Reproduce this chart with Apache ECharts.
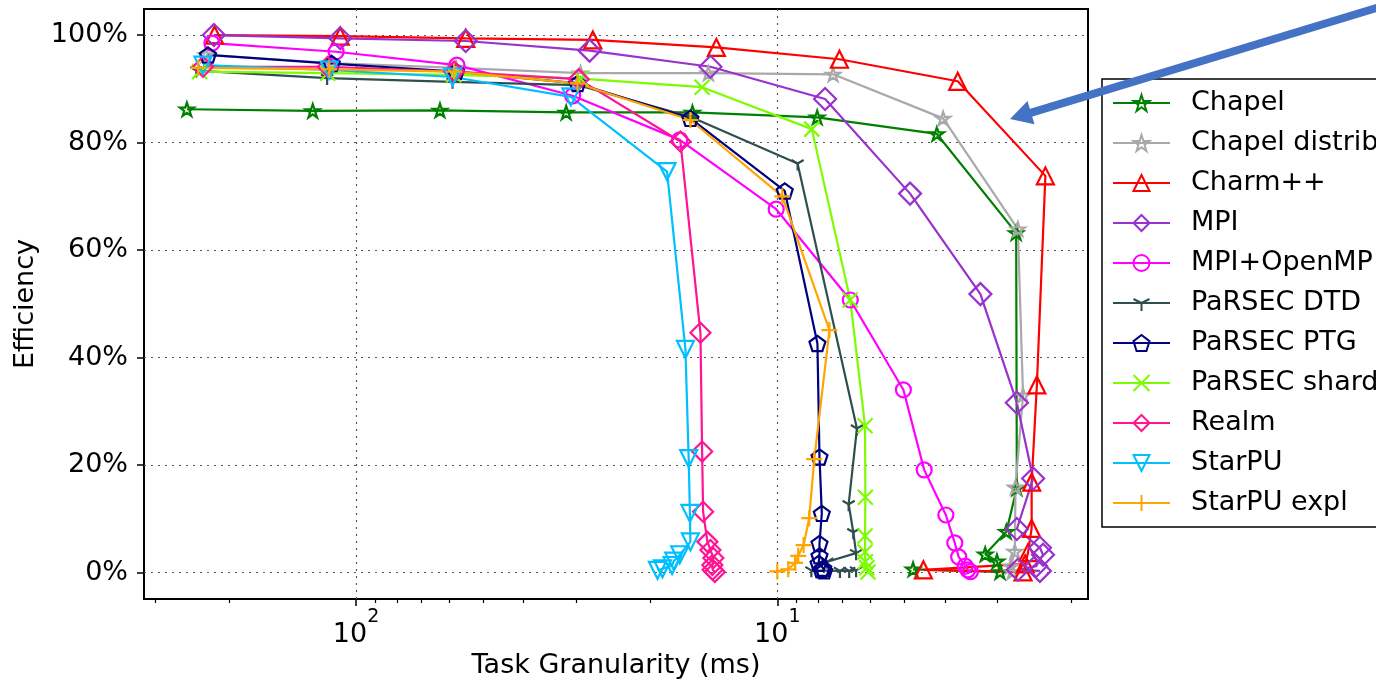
<!DOCTYPE html>
<html>
<head>
<meta charset="utf-8">
<script src="https://cdn.jsdelivr.net/npm/echarts@6/dist/echarts.min.js"></script>
<style>
  html, body { margin: 0; padding: 0; background: #fff; }
  #chart { width: 1376px; height: 679px; }
</style>
</head>
<body>
<div id="chart"></div>
<script>
// 系列名称
const names = ['Chapel', 'Chapel distrib', 'Charm++', 'MPI', 'MPI+OpenMP', 'PaRSEC DTD',
  'PaRSEC PTG', 'PaRSEC shard', 'Realm', 'StarPU', 'StarPU expl']

// 任务粒度 (ms) 与效率 (%)
const chapelX = [252, 126.7, 63.2, 31.7, 15.9, 8.04, 4.18, 2.71, 2.70, 2.86, 3.21, 3.01, 2.96, 4.76]
const chapelY = [86.2, 85.9, 86.0, 85.6, 85.6, 84.7, 81.6, 63.2, 15.7, 7.6, 3.4, 2.1, 0.1, 0.6]
const chapelDistX = [227, 114.6, 57.9, 29.3, 14.57, 7.37, 4.04, 2.685, 2.61, 2.72, 2.73, 2.79, 2.77]
const chapelDistY = [96.3, 94.8, 93.9, 92.9, 92.9, 92.7, 84.5, 63.9, 33.0, 15.9, 3.9, 1.2, 0.1]
const charmX = [216.7, 109, 54.9, 27.4, 13.95, 7.12, 3.73, 2.31, 2.42, 2.49, 2.49, 2.54, 2.58, 4.50, 2.61]
const charmY = [100.0, 99.8, 99.4, 99.1, 97.7, 95.5, 91.4, 73.8, 34.9, 16.8, 8.2, 3.7, 1.6, 0.5, 0.1]
const mpiX = [217.4, 109, 54.9, 27.9, 14.41, 7.70, 4.84, 3.295, 2.70, 2.47, 2.70, 2.38, 2.34, 2.43, 2.685, 2.38]
const mpiY = [100.0, 99.4, 98.9, 97.1, 94.1, 88.1, 70.5, 51.8, 31.6, 17.5, 8.1, 4.6, 3.3, 1.2, 0.5, 0.3]
const mpiOmpX = [219.8, 111.5, 57.6, 30.6, 17.04, 10.06, 6.71, 5.02, 4.48, 3.98, 3.79, 3.71, 3.58, 3.53, 3.48]
const mpiOmpY = [98.5, 96.9, 94.4, 88.7, 80.5, 67.6, 50.7, 34.0, 19.1, 10.7, 5.5, 2.9, 1.2, 0.5, 0.15]
const dtdX = [239.4, 117.1, 59.0, 29.8, 16.08, 8.95, 6.47, 6.77, 6.60, 6.50, 7.61, 8.30, 7.10, 6.75, 6.50]
const dtdY = [93.4, 92.0, 91.3, 90.7, 84.8, 76.1, 26.8, 12.7, 7.5, 3.6, 2.0, 0.4, 0.3, 0.3, 0.4]
const ptgX = [224.6, 114.2, 57.9, 29.8, 16.08, 9.60, 8.03, 7.94, 7.84, 7.94, 7.94, 7.98, 7.78, 7.86, 7.74]
const ptgY = [96.3, 94.7, 93.2, 91.0, 84.5, 71.0, 42.6, 21.5, 11.0, 5.4, 3.1, 1.7, 0.8, 0.5, 0.3]
const shardX = [235.1, 116.7, 58.6, 29.3, 15.08, 8.28, 6.71, 6.19, 6.18, 6.19, 6.19, 6.18, 6.13, 6.09]
const shardY = [93.2, 92.9, 92.6, 91.9, 90.3, 82.5, 50.7, 27.3, 14.0, 6.8, 3.8, 2.0, 0.9, 0.1]
const realmX = [230.8, 116.7, 58.5, 29.6, 16.98, 15.22, 15.08, 15.0, 14.65, 14.41, 14.18, 14.26, 14.24, 14.07]
const realmY = [94.1, 94.1, 93.2, 91.8, 80.2, 44.6, 22.5, 11.3, 5.7, 4.2, 2.7, 1.4, 0.5, 0.1]
const starpuX = [230.8, 115.7, 59.0, 30.9, 18.27, 16.52, 16.23, 16.12, 16.08, 17.04, 17.61, 17.77, 18.73, 19.25]
const starpuY = [94.4, 93.5, 92.2, 88.5, 74.6, 41.5, 21.2, 11.0, 5.7, 3.3, 2.1, 1.3, 0.7, 0.4]
const starpuExplX = [236.8, 115.7, 58.5, 29.8, 16.08, 9.73, 7.52, 8.17, 8.40, 8.66, 8.92, 9.07, 9.42, 10.0]
const starpuExplY = [93.9, 93.6, 93.2, 91.0, 84.2, 70.0, 45.1, 21.1, 10.1, 5.1, 3.1, 1.8, 0.6, 0.2]

// 刻度
const yTicks = [0, 20, 40, 60, 80, 100]
const xMajorTicks = [10, 100]
const xMinorTicks = [300, 200, 90, 80, 70, 60, 50, 40, 30, 20, 9, 8, 7, 6, 5, 4, 3, 2]

const allX = [chapelX, chapelDistX, charmX, mpiX, mpiOmpX, dtdX, ptgX, shardX, realmX, starpuX, starpuExplX]
const allY = [chapelY, chapelDistY, charmY, mpiY, mpiOmpY, dtdY, ptgY, shardY, realmY, starpuY, starpuExplY]

const colors = ['#008000', '#a9a9a9', '#ff0000', '#9932cc', '#ff00ff', '#2f4f4f',
  '#000080', '#7cfc00', '#ff1493', '#00bfff', '#ffa500']

const STAR = 'path://M0,-10L2.25,-3.09L9.51,-3.09L3.63,1.18L5.88,8.09L0,3.82L-5.88,8.09L-3.63,1.18L-9.51,-3.09L-2.25,-3.09Z'
const PENTAGON = 'path://M0,-10L9.51,-3.09L5.88,8.09L-5.88,8.09L-9.51,-3.09Z'
const TRI_DOWN = 'path://M-10,-10L10,-10L0,10Z'
const CROSS = 'path://M-10,-10L10,10M-10,10L10,-10'
const PLUS = 'path://M0,-10L0,10M-10,0L10,0'
const Y_MARK = 'path://M0,-10L0,-10M0,0L0,10M0,0L-8.66,-5M0,0L8.66,-5'

const symbols = [STAR, STAR, 'triangle', 'diamond', 'circle', Y_MARK, PENTAGON, CROSS, 'diamond', TRI_DOWN, PLUS]
const symbolSizes = [14, 14, 17, 22, 15, 14, 16, 15, 20, 17, 16]

const FONT = 'DejaVu Sans'
const X_MIN = 1.83
const X_MAX = 318.6
const toLog = v => Math.log10(v)

const myChart = echarts.init(document.getElementById('chart'))

const gridLine = { show: true, lineStyle: { color: '#555', type: [2, 5], width: 1.2 } }

const options = {
  animation: false,
  grid: {
    left: 144, top: 9, width: 944, height: 590,
    outerBoundsMode: 'none',
    show: true, borderColor: '#000', borderWidth: 2, backgroundColor: 'transparent'
  },
  xAxis: [
    {
      type: 'log', logBase: 10, min: X_MIN, max: X_MAX, inverse: true,
      name: 'Task Granularity (ms)', nameLocation: 'middle', nameGap: 38,
      nameTextStyle: { fontFamily: FONT, fontSize: 27, color: '#000' },
      axisLine: { show: false },
      axisTick: { show: false },
      splitLine: { show: false },
      axisLabel: {
        showMinLabel: false, showMaxLabel: false, margin: 9,
        formatter: v => {
          const e = Math.round(Math.log10(v))
          return Math.abs(Math.log10(v) - e) < 1e-6 ? '{b|10}{s|' + e + '}' : ''
        },
        rich: {
          b: { fontFamily: FONT, fontSize: 27, color: '#000', lineHeight: 40, verticalAlign: 'bottom' },
          s: { fontFamily: FONT, fontSize: 19, color: '#000', lineHeight: 14, verticalAlign: 'top' }
        }
      }
    },
    {
      // 主刻度 (对数空间)
      type: 'value', min: toLog(X_MIN), max: toLog(X_MAX), inverse: true, position: 'bottom',
      axisLine: { show: false }, axisLabel: { show: false },
      axisTick: { show: true, customValues: xMajorTicks.map(toLog), length: 7, lineStyle: { color: '#000', width: 1.5 } },
      splitLine: gridLine
    },
    {
      // 次刻度
      type: 'value', min: toLog(X_MIN), max: toLog(X_MAX), inverse: true, position: 'bottom',
      axisLine: { show: false }, axisLabel: { show: false }, splitLine: { show: false },
      axisTick: { show: true, customValues: xMinorTicks.map(toLog), length: 4, lineStyle: { color: '#000', width: 1.2 } }
    }
  ],
  yAxis: {
    type: 'value', min: -4.93, max: 104.85,
    name: 'Efficiency', nameLocation: 'middle', nameGap: 105,
    nameTextStyle: { fontFamily: FONT, fontSize: 27, color: '#000' },
    axisLine: { show: false },
    axisTick: { show: true, customValues: yTicks, length: 7, lineStyle: { color: '#000', width: 1.5 } },
    axisLabel: { customValues: yTicks, formatter: '{value}%', fontFamily: FONT, fontSize: 27, color: '#000', margin: 16 },
    splitLine: gridLine
  },
  legend: {
    orient: 'vertical', left: 1102, top: 79,
    itemWidth: 57, itemHeight: 20, itemGap: 12,
    padding: [10, 10, 10, 10],
    borderColor: '#000', borderWidth: 1.5, borderRadius: 0, backgroundColor: '#fff',
    selectedMode: false,
    textStyle: { fontFamily: FONT, fontSize: 27, color: '#000', lineHeight: 28, padding: [0, 0, 0, 16] },
    data: names
  },
  series: names.map((name, i) => ({
    name,
    type: 'line',
    xAxisIndex: 0,
    yAxisIndex: 0,
    data: allX[i].map((x, j) => [x, allY[i][j]]),
    symbol: symbols[i],
    symbolSize: symbolSizes[i],
    symbolKeepAspect: true,
    showAllSymbol: true,
    lineStyle: { color: colors[i], width: 2.2 },
    itemStyle: { color: 'rgba(255,255,255,0)', borderColor: colors[i], borderWidth: 2.2 },
    emphasis: { disabled: true }
  })),
  graphic: [
    {
      type: 'line', z: 100,
      shape: { x1: 1029, y1: 113.4, x2: 1400, y2: 0.8 },
      style: { stroke: '#4472c4', lineWidth: 8 }
    },
    {
      type: 'polygon', z: 100,
      shape: { points: [[1010, 119], [1027.5, 101], [1034.5, 124.2]] },
      style: { fill: '#4472c4' }
    }
  ]
}

myChart.setOption(options)
</script>
</body>
</html>
